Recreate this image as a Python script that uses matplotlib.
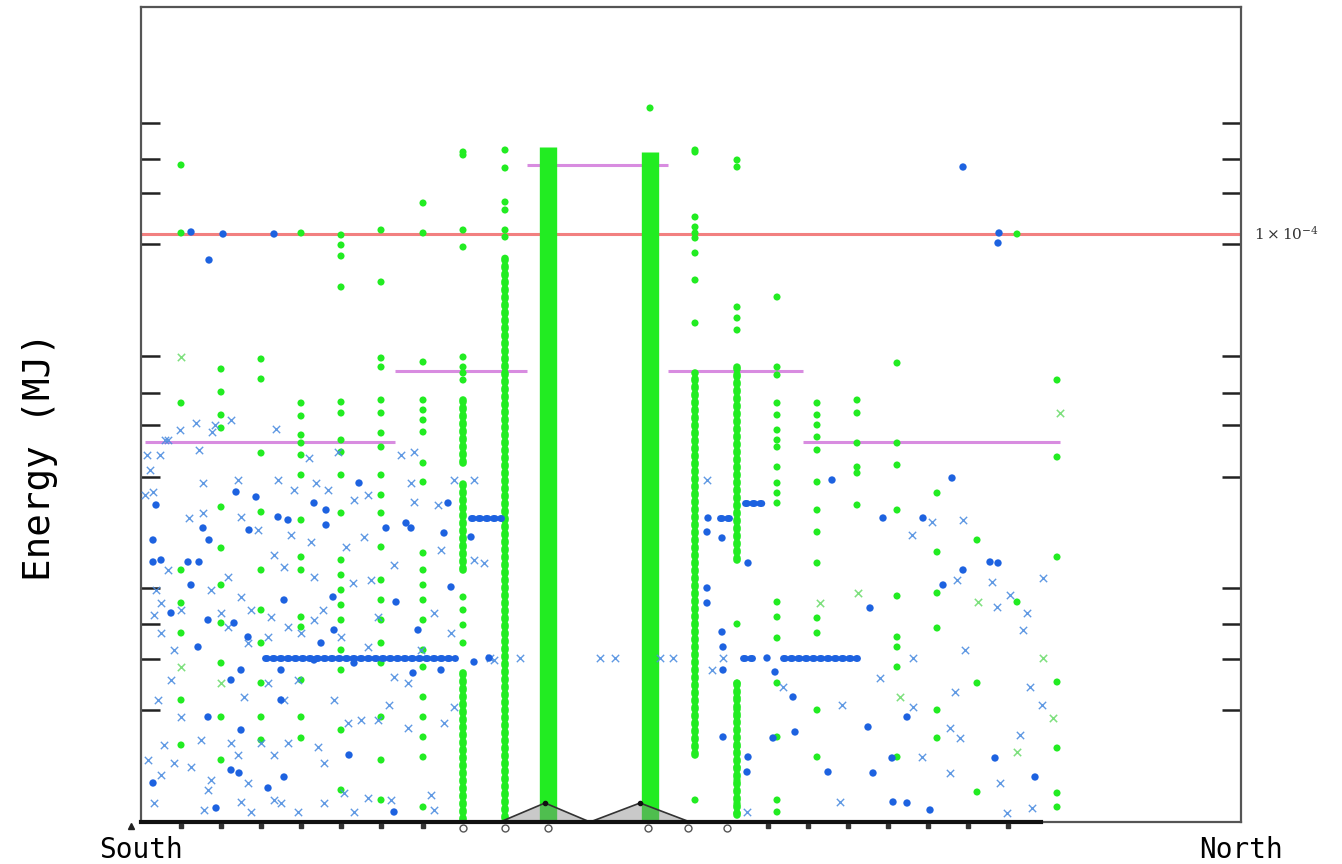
import matplotlib
matplotlib.use("Agg")
import matplotlib.pyplot as plt

# positions along the South-North axis (arbitrary units), energy in arbitrary units
col_x = [40, 80, 120, 160, 200, 240, 282, 322, 364, 554, 596, 636, 676, 716, 756, 796, 836, 876, 916]
col_e = [
    [657, 589, 419, 252, 219, 189, 122, 77],
    [453, 430, 407, 394, 315, 274, 237, 199, 159, 105, 62],
    [463, 443, 369, 310, 252, 212, 179, 139, 105, 82],
    [589, 419, 406, 387, 379, 367, 347, 302, 265, 252, 205, 195, 142, 105, 84],
    [587, 577, 566, 535, 420, 409, 382, 370, 347, 309, 262, 247, 232, 217, 202, 172, 152, 92, 32],
    [592, 540, 464, 455, 422, 409, 389, 375, 347, 327, 309, 275, 242, 222, 202, 179, 159, 105, 62, 22],
    [619, 589, 460, 422, 412, 402, 390, 359, 340, 269, 252, 237, 222, 202, 172, 155, 125, 105, 85, 65, 15],
    [670, 667, 592, 575, 465, 455, 449, 442, 225, 212, 197, 179],
    [672, 654, 620, 612, 592, 585],
    [672, 670, 605, 595, 589, 584, 569, 542, 499, 22],
    [655, 662, 515, 504, 492, 198, 139, 125, 112, 105, 75, 55, 42, 19, 9],
    [525, 455, 447, 419, 407, 392, 382, 375, 355, 339, 329, 319, 220, 205, 184, 139, 85, 22, 10],
    [419, 407, 397, 385, 372, 340, 312, 290, 259, 204, 189, 112, 65],
    [422, 409, 379, 355, 349, 317],
    [459, 379, 357, 312, 226, 185, 175, 155, 65],
    [329, 270, 229, 194, 112, 84],
    [282, 139, 30],
    [588, 220],
    [442, 365, 265, 140, 74, 29, 15],
]

# very dense vertical runs of green points: x, low, high
band_x = [407, 509]
band_lo = [0, 0]
band_hi = [675, 670]
run_x = [364, 322, 322, 322, 554, 596, 596]
run_lo = [4, 359, 252, 2, 67, 262, 7]
run_hi = [569, 422, 342, 152, 449, 459, 142]
lone_green = ([509], [714])

green_x_pts = [(40, 465), (40, 155), (80, 139), (717, 229), (679, 219), (759, 125), (876, 70),
               (912, 104), (902, 164), (837, 220), (919, 409)]

blue_o = [
    (50, 590), (68, 562), (82, 588), (133, 588), (822, 655), (858, 589), (857, 579),
    (15, 317), (12, 282), (12, 260), (20, 262), (47, 260), (58, 260), (50, 237), (62, 294), (68, 282),
    (95, 330), (115, 325), (108, 292), (137, 305), (147, 302), (173, 319), (185, 312), (185, 297),
    (192, 225), (218, 339), (245, 294), (265, 299), (270, 294), (307, 319), (310, 235), (303, 289),
    (330, 285), (255, 220), (277, 192), (300, 152), (272, 149), (208, 67), (253, 10), (193, 192),
    (180, 179), (173, 162), (213, 159), (143, 222), (140, 152), (100, 152), (90, 142), (100, 92),
    (90, 52), (98, 49), (143, 45), (127, 34), (75, 14), (12, 39), (67, 105), (57, 175), (30, 209),
    (107, 185), (67, 202), (93, 199), (140, 122), (333, 160), (348, 164),
    (691, 342), (811, 344), (567, 304), (566, 290), (581, 284), (607, 259), (742, 304), (782, 304),
    (566, 234), (566, 219), (581, 190), (582, 175), (582, 152), (634, 150), (652, 125), (729, 214),
    (822, 252), (802, 237), (849, 260), (857, 259), (582, 85), (632, 84), (654, 90), (607, 65),
    (606, 50), (687, 50), (732, 49), (727, 95), (766, 105), (751, 64), (752, 20), (766, 19),
    (789, 12), (854, 64), (894, 45), (626, 164),
]

# rows of blue points sitting on one energy level: y, x-from, x-to
row_e = [164, 164, 164, 304, 304, 319]
row_lo = [124, 602, 642, 330, 579, 604]
row_hi = [314, 616, 716, 360, 592, 621]

blue_x = [
    (12, 330), (62, 339), (97, 342), (137, 342), (153, 332), (175, 339), (187, 332), (213, 322),
    (227, 327), (270, 339), (313, 342), (333, 342), (48, 304), (62, 309), (100, 305), (117, 292),
    (150, 287), (170, 280), (205, 275), (223, 285), (273, 320), (297, 317), (300, 272), (253, 257),
    (173, 245), (143, 255), (133, 267), (87, 245), (27, 252), (15, 232), (20, 219), (13, 207),
    (40, 212), (20, 189), (33, 172), (70, 232), (80, 209), (100, 225), (110, 212), (87, 195),
    (107, 179), (130, 205), (147, 195), (127, 185), (160, 189), (173, 202), (182, 212), (200, 185),
    (212, 239), (230, 242), (237, 205), (227, 175), (253, 145), (267, 139), (293, 209), (310, 189),
    (280, 172), (193, 122), (157, 142), (143, 122), (127, 139), (103, 125), (30, 142), (17, 122),
    (40, 105), (23, 77), (60, 82), (90, 79), (97, 67), (120, 79), (133, 67), (147, 79), (177, 75),
    (183, 59), (207, 99), (220, 102), (237, 102), (267, 94), (248, 117), (303, 99), (313, 115),
    (333, 262), (343, 259), (353, 162), (7, 62), (33, 59), (50, 55), (20, 47), (13, 19), (70, 42),
    (67, 32), (100, 20), (107, 39), (133, 22), (140, 19), (157, 10), (183, 19), (203, 29),
    (213, 10), (227, 24), (250, 22), (290, 27), (293, 12), (110, 10), (63, 12), (6, 367), (9, 352),
    (4, 327), (24, 382), (19, 367), (39, 392), (74, 397), (27, 382), (55, 399), (71, 390),
    (90, 402), (58, 372), (135, 393), (260, 367), (273, 370), (168, 364), (197, 370),
    (566, 342), (791, 300), (822, 302), (771, 287), (816, 242), (851, 240), (856, 215), (869, 227),
    (886, 209), (882, 192), (902, 244), (824, 172), (739, 144), (814, 130), (701, 117), (772, 115),
    (889, 135), (901, 117), (809, 94), (819, 84), (781, 65), (809, 49), (879, 87), (859, 39),
    (699, 20), (866, 9), (891, 14), (571, 152), (642, 135), (606, 10), (532, 164), (582, 164),
    (772, 164), (349, 164), (379, 164), (459, 164), (474, 164), (519, 164),
]

pink_e = [380, 451, 657, 451, 380]
pink_lo = [4, 254, 386, 527, 662]
pink_hi = [254, 386, 527, 662, 919]
red_e = 588

tick_e = [699, 663, 629, 578, 466, 429, 397, 345, 234, 198, 163, 112]

# small markers under the base line
base_sq = [40, 80, 120, 160, 200, 240, 282, 627, 667, 707, 747, 787, 827, 867]
base_o = [322, 364, 407, 507, 547, 586]
mtn_c = [404, 499]
mtn_h = [19, 19]
mtn_w = [45, 50]

G = "#22ec22"
B = "#1d62e0"
BX = "#4f8ee0"

fig = plt.figure(figsize=(13.42, 8.64), dpi=100)
ax = fig.add_axes([141 / 1342, 1 - 822 / 864, 1100 / 1342, 815 / 864])
ax.set_xlim(0, 1100)
ax.set_ylim(0, 815)

# reference lines
ax.axhline(red_e, color="#f28080", lw=2.2, zorder=1)
ax.hlines(pink_e, pink_lo, pink_hi, color="#d88ce0", lw=2.2, zorder=1)

# green
for x, vals in zip(col_x, col_e):
    ax.scatter([x] * len(vals), vals, s=26, color=G, edgecolors="none", zorder=3)
ax.vlines(band_x, band_lo, band_hi, color=G, lw=12.5, zorder=3)
ax.vlines(run_x, run_lo, run_hi, color=G, lw=5.5, linestyles=(0, (0.25, 0.75)),
          capstyle="round", zorder=3)
ax.scatter(*lone_green, s=26, color=G, edgecolors="none", zorder=3)
gx, gy = zip(*green_x_pts)
ax.scatter(gx, gy, s=28, marker="x", color="#7ee07e", linewidths=1.1, zorder=3)

# blue
bx, by = zip(*blue_x)
ax.scatter(bx, by, s=28, marker="x", color=BX, linewidths=1.0, alpha=0.9, zorder=4)
ox, oy = zip(*blue_o)
ax.scatter(ox, oy, s=28, color=B, edgecolors="none", zorder=4)
for e, lo, hi in zip(row_e, row_lo, row_hi):
    ax.plot([lo, hi], [e, e], color=B, lw=5, ls=(0, (0.25, 0.8)),
            dash_capstyle="round", zorder=4)

# base decorations
for c, h, w in zip(mtn_c, mtn_h, mtn_w):
    ax.fill([c - w, c, c + w], [0, h, 0], color="#888888", alpha=0.45, lw=0, zorder=5, clip_on=False)
    ax.plot([c - w, c, c + w], [0, h, 0], color="#333333", lw=1.2, zorder=5, clip_on=False)
    ax.plot([c], [h], "o", color="#111111", ms=3, zorder=6)
ax.plot([0, 900], [0, 0], color="#111111", lw=3, zorder=6, clip_on=False)
ax.plot(base_sq, [-4] * len(base_sq), "s", color="#333333", ms=3.5, clip_on=False, zorder=6)
ax.plot(base_o, [-6] * len(base_o), "o", mfc="white", mec="#555555", ms=5, mew=1,
        clip_on=False, zorder=6)
ax.plot([-10], [-4], "^", color="#222222", ms=5, clip_on=False)

# axes frame and ticks
for s in ax.spines.values():
    s.set_color("#555555")
    s.set_linewidth(1.6)
ax.set_xticks([])
ax.set_yticks(tick_e)
ax.set_yticklabels([])
ax.tick_params(axis="y", direction="in", length=14, width=1.8, color="#222222",
               left=True, right=True)

ax.text(1.012, red_e, r"$1\times10^{-4}$", transform=ax.get_yaxis_transform(),
        fontsize=11, math_fontfamily="dejavuserif", color="#333333", va="center", ha="left")

fig.text(141 / 1342, 1 - 850 / 864, "South", family="DejaVu Sans Mono", fontsize=20,
         ha="center", va="center")
fig.text(1241 / 1342, 1 - 850 / 864, "North", family="DejaVu Sans Mono", fontsize=20,
         ha="center", va="center")
fig.text(40 / 1342, 1 - 457 / 864, "Energy (MJ)", family="DejaVu Sans Mono", fontsize=27,
         rotation=90, ha="center", va="center")

fig.savefig("out.png", dpi=100)
